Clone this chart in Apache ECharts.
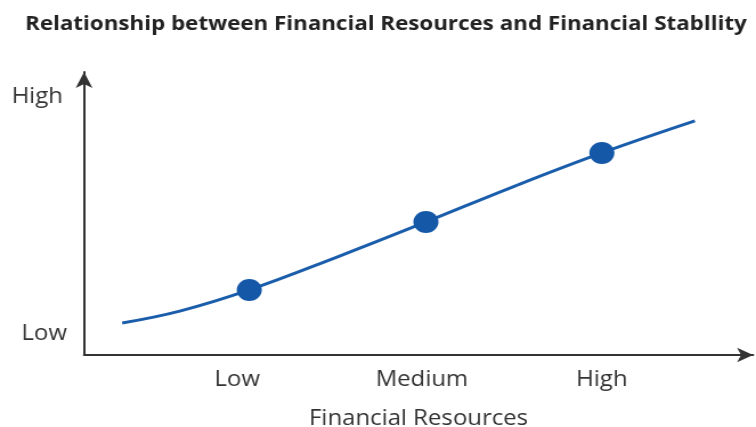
<!DOCTYPE html>
<html>
<head>
<meta charset="utf-8">
<script src="https://cdn.jsdelivr.net/npm/echarts@6/dist/echarts.min.js"></script>
<style>
html,body{margin:0;padding:0;background:#fff;overflow:hidden}
#c{width:663px;height:427px;transform:scaleX(1.1403);transform-origin:0 0}
</style>
</head>
<body>
<div id="c"></div>
<script>
// Data (arbitrary 0-10 scales)
var titleText = 'Relationship between Financial Resources and Financial Stabllity';
var xAxisName = 'Financial Resources';
var xTickLabels = ['Low', 'Medium', 'High'];
var xTickValues = [2.29, 5.05, 7.74];
var yTickLabels = ['Low', 'High'];
var yTickValues = [0.74, 9.12];
var curveX = [0.57, 1.43, 2.47, 3.78, 5.11, 6.44, 7.74, 9.13];
var curveY = [1.13, 1.55, 2.30, 3.46, 4.70, 5.97, 7.14, 8.27];
var pointX = [2.47, 5.11, 7.74];
var pointY = [2.30, 4.70, 7.14];

var FONT = '"Open Sans", sans-serif';
var curve = curveX.map(function (x, i) { return [x, curveY[i]]; });
var points = pointX.map(function (x, i) { return [x, pointY[i]]; });

var chart = echarts.init(document.getElementById('c'), null, {renderer: 'canvas'});
chart.setOption({
  animation: false,
  backgroundColor: '#ffffff',
  title: {
    text: titleText,
    left: 17, top: 9,
    textStyle: {fontFamily: FONT, fontSize: 19.6, fontWeight: 'bold', color: '#222'}
  },
  grid: {left: 73.7, right: 2.6, top: 72, bottom: 72, outerBoundsMode: 'none'},
  xAxis: {
    type: 'value', min: 0, max: 10,
    name: xAxisName, nameLocation: 'middle', nameGap: 54,
    nameTextStyle: {fontFamily: FONT, fontSize: 21, color: '#333'},
    splitLine: {show: false},
    axisLine: {show: true, symbol: ['none', 'arrow'], symbolSize: [11, 14], lineStyle: {color: '#333', width: 2}},
    axisTick: {show: false},
    axisLabel: {
      customValues: xTickValues,
      margin: 15,
      fontFamily: FONT, fontSize: 21, color: '#333',
      formatter: function (v) {
        for (var i = 0; i < xTickValues.length; i++) if (Math.abs(v - xTickValues[i]) < 1e-6) return xTickLabels[i];
        return '';
      }
    }
  },
  yAxis: {
    type: 'value', min: 0, max: 10,
    splitLine: {show: false},
    axisLine: {show: true, symbol: ['none', 'arrow'], symbolSize: [11, 16], lineStyle: {color: '#333', width: 2}},
    axisTick: {show: false},
    axisLabel: {
      customValues: yTickValues,
      margin: 15,
      fontFamily: FONT, fontSize: 21, color: '#333',
      formatter: function (v) {
        for (var i = 0; i < yTickValues.length; i++) if (Math.abs(v - yTickValues[i]) < 1e-6) {
          return i === 1 ? '{hi|' + yTickLabels[i] + '}' : yTickLabels[i];
        }
        return '';
      },
      rich: {hi: {fontFamily: FONT, fontSize: 21, color: '#333', padding: [0, 3.5, 0, 0]}}
    }
  },
  series: [
    {
      type: 'line', data: curve, smooth: 0.4, showSymbol: false,
      lineStyle: {color: '#1a5dab', width: 3}, z: 2
    },
    {
      type: 'scatter', data: points, symbol: 'circle', symbolSize: 22,
      itemStyle: {color: '#1558a8', opacity: 1}, z: 3
    }
  ]
});
</script>
</body>
</html>
